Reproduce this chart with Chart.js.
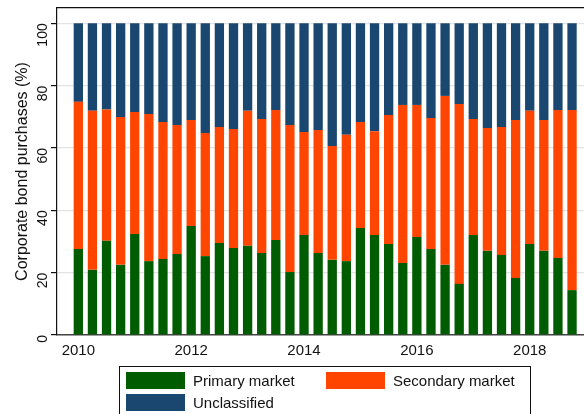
<!DOCTYPE html>
<html>
<head>
<meta charset="utf-8">
<script src="https://cdn.jsdelivr.net/npm/chart.js@4/dist/chart.umd.min.js"></script>
<style>
  html, body { margin: 0; padding: 0; background: #fff; }
  #wrap { position: relative; width: 584px; height: 414px; overflow: hidden; }
  #legend {
    position: absolute; left: 119px; top: 366px; width: 412px; height: 60px;
    border: 1px solid #111; box-sizing: border-box;
    font-family: "Liberation Sans", Arial, sans-serif; font-size: 15px; color: #111;
  }
  #legend .item { position: absolute; height: 17px; line-height: 17px; white-space: nowrap; }
  #legend .sw { display: inline-block; width: 59px; height: 17px; vertical-align: top; margin-right: 8px; }
</style>
</head>
<body>
<div id="wrap">
  <canvas id="chart" width="584" height="414"></canvas>
  <div id="legend"></div>
</div>
<script>
// quarterly shares, 2010Q1 .. 2018Q4
const quarters = [];
for (let y = 2010; y <= 2018; y++) for (let q = 0; q < 4; q++) quarters.push(y + q / 4);

const primary = [27.6, 20.9, 30.2, 22.5, 32.4, 23.7, 24.4, 26.0, 35.0, 25.3, 29.5, 27.9,
  28.6, 26.3, 30.5, 20.2, 32.1, 26.3, 24.1, 23.7, 34.3, 32.1, 29.2, 23.1,
  31.4, 27.6, 22.5, 16.4, 32.1, 27.0, 25.7, 18.3, 29.2, 27.0, 24.7, 14.4];
const secondary = [47.2, 51.0, 42.1, 47.4, 39.1, 47.2, 43.9, 41.4, 34.0, 39.5, 37.2, 38.2,
  43.3, 43.0, 41.7, 47.2, 33.0, 39.5, 36.5, 40.5, 34.0, 33.3, 41.4, 50.7,
  42.4, 42.0, 54.2, 57.7, 37.2, 39.4, 41.0, 50.7, 42.7, 42.0, 47.5, 57.8];
const unclassified = [25.2, 28.1, 27.7, 30.1, 28.5, 29.1, 31.7, 32.6, 31.0, 35.2, 33.3, 33.9,
  28.1, 30.7, 27.8, 32.6, 34.9, 34.2, 39.4, 35.8, 31.7, 34.6, 29.4, 26.2,
  26.2, 30.4, 23.3, 25.9, 30.7, 33.6, 33.3, 31.0, 28.1, 31.0, 27.8, 27.8];
const seriesNames = ["Primary market", "Secondary market", "Unclassified"];
const yearTicks = [2010, 2012, 2014, 2016, 2018];
const yTicks = [0, 20, 40, 60, 80, 100];

const colors = ["#005c00", "#ff4500", "#1a476f"];
const fam = "'Liberation Sans', Arial, sans-serif";

const toPoints = arr => arr.map((v, i) => ({ x: quarters[i], y: v }));

const xMin = 2009.622, xMax = 2018.962;

const chart = new Chart(document.getElementById("chart"), {
  type: "bar",
  data: {
    datasets: [primary, secondary, unclassified].map((arr, k) => ({
      label: seriesNames[k],
      data: toPoints(arr),
      backgroundColor: colors[k],
      borderWidth: 0,
      categoryPercentage: 1,
      barPercentage: 0.66,
      xAxisID: "x",
      yAxisID: "y",
    })),
  },
  options: {
    responsive: false,
    animation: false,
    layout: { autoPadding: false, padding: { top: 8, right: 0, left: 0, bottom: 0 } },
    plugins: { legend: { display: false }, tooltip: { enabled: false } },
    scales: {
      x: {
        type: "linear",
        position: "bottom",
        stacked: true,
        offset: false,
        min: xMin,
        max: xMax,
        afterBuildTicks: s => { s.ticks = yearTicks.map(v => ({ value: v })); },
        ticks: { font: { family: fam, size: 15 }, color: "#111", padding: 7, maxRotation: 0, callback: v => String(v) },
        grid: { display: false, drawTicks: false, offset: false },
        border: { display: true, color: "#444", width: 1.5 },
        afterFit: s => { s.height = 79; s.paddingLeft = 0; s.paddingRight = 0; },
      },
      xTop: {
        type: "linear",
        position: "top",
        offset: false,
        min: xMin,
        max: xMax,
        ticks: { display: false },
        grid: { display: false, offset: false },
        border: { display: true, color: "#111", width: 1.2 },
        afterFit: s => { s.height = 0; },
      },
      y: {
        type: "linear",
        stacked: true,
        min: 0,
        max: 104.9,
        afterBuildTicks: s => { s.ticks = yTicks.map(v => ({ value: v })); },
        ticks: { font: { family: fam, size: 14 }, color: "#111", minRotation: 90, maxRotation: 90, padding: 8 },
        grid: { color: "#e3e3e3", tickColor: "#111", tickLength: 6, lineWidth: 1.2 },
        border: { display: true, color: "#111", width: 1.2 },
        title: { display: true, text: "Corporate bond purchases (%)", font: { family: fam, size: 16 }, color: "#111", padding: { top: 13, bottom: 0 } },
        afterFit: s => { s.width = 57; s.paddingTop = 0; s.paddingBottom = 0; },
      },
    },
  },
});

// legend built from the chart's datasets
const legendEl = document.getElementById("legend");
const spots = [[6, 5], [206, 5], [6, 27]];
chart.data.datasets.forEach((ds, i) => {
  const d = document.createElement("div");
  d.className = "item";
  d.style.left = spots[i][0] + "px";
  d.style.top = spots[i][1] + "px";
  d.innerHTML = `<span class="sw" style="background:${ds.backgroundColor}"></span>${ds.label}`;
  legendEl.appendChild(d);
});
</script>
</body>
</html>
